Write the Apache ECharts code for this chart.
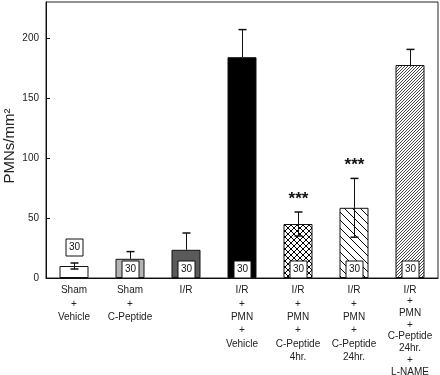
<!DOCTYPE html>
<html>
<head>
<meta charset="utf-8">
<script src="https://cdn.jsdelivr.net/npm/echarts@6/dist/echarts.min.js"></script>
<style>
html,body{margin:0;padding:0;background:#fff;}
#chart{width:440px;height:375px;}
</style>
</head>
<body>
<div id="chart"></div>
<script>
// ---- data ----
const categories = [
  ['Sham', '+', 'Vehicle'],
  ['Sham', '+', 'C-Peptide'],
  ['I/R'],
  ['I/R', '+', 'PMN', '+', 'Vehicle'],
  ['I/R', '+', 'PMN', '+', 'C-Peptide', '4hr.'],
  ['I/R', '+', 'PMN', '+', 'C-Peptide', '24hr.'],
  ['I/R', '+', 'PMN', '+', 'C-Peptide', '24hr.', '+', 'L-NAME']
];
const means = [10, 16, 23.5, 184, 45, 58.5, 177.5];
const errors = [2.5, 6, 14, 23, 10, 24.5, 13];
const nLabels = ['30', '30', '30', '30', '30', '30', '30'];
const significance = ['', '', '', '', '***', '***', ''];
const yTicks = [0, 50, 100, 150, 200];
const yMax = 230;
const yTitle = 'PMNs/mm²';

// ---- styles ----
const FONT = 'Liberation Sans, Arial, Helvetica, sans-serif';
function hatch(size, dirs, color, lw) {
  const c = document.createElement('canvas');
  c.width = size; c.height = size;
  const g = c.getContext('2d');
  g.fillStyle = '#fff';
  g.fillRect(0, 0, size, size);
  g.strokeStyle = color;
  g.lineWidth = lw;
  g.beginPath();
  for (const d of dirs) {
    for (const k of [-size, 0, size]) {
      if (d === 'back') { g.moveTo(k, 0); g.lineTo(k + size, size); }
      else { g.moveTo(k + size, 0); g.lineTo(k, size); }
    }
  }
  g.stroke();
  return { image: c, repeat: 'repeat' };
}
const fills = [
  '#ffffff',
  '#b4b4b4',
  '#5a5a5a',
  '#000000',
  hatch(6, ['back', 'fwd'], '#000', 1),
  hatch(8, ['back'], '#000', 1),
  hatch(3, ['fwd'], '#333', 0.9)
];
const lowerErrShown = [true, false, false, false, true, true, false];

const chart = echarts.init(document.getElementById('chart'));
const catNames = categories.map(c => c.join('\n'));

chart.setOption({
  animation: false,
  backgroundColor: '#fff',
  grid: { left: 46, right: 2, top: 2, bottom: 97, containLabel: false, outerBoundsMode: 'none',
    show: true, borderColor: '#222', borderWidth: 1 },
  graphic: [{
    type: 'text',
    x: 10, y: 146,
    rotation: Math.PI / 2,
    style: { text: yTitle, align: 'center', verticalAlign: 'middle', fontFamily: FONT, fontSize: 15, fill: '#222' }
  }],
  xAxis: {
    type: 'category',
    data: catNames,
    axisLine: { lineStyle: { color: '#111', width: 1 } },
    axisTick: { show: false },
    axisLabel: {
      interval: 0,
      margin: 6,
      color: '#222',
      fontFamily: FONT,
      fontSize: 10,
      hideOverlap: false,
      formatter: function (v, idx) {
        const lines = categories[idx];
        const st = lines.length > 6 ? 'b' : 'a';
        return lines.map(l => '{' + st + '|' + l + '}').join('\n');
      },
      rich: {
        a: { fontFamily: FONT, fontSize: 10, color: '#222', lineHeight: 13.3 },
        b: { fontFamily: FONT, fontSize: 10, color: '#222', lineHeight: 11.7 }
      }
    }
  },
  yAxis: {
    type: 'value',
    min: 0, max: yMax, interval: 50,
    axisLine: { show: true, lineStyle: { color: '#111', width: 1 } },
    axisTick: { show: true, inside: true, length: 4, customValues: yTicks, lineStyle: { color: '#111' } },
    axisLabel: { customValues: yTicks, margin: 7, color: '#222', fontFamily: FONT, fontSize: 10 },
    splitLine: { show: false }
  },
  series: [
    {
      type: 'bar',
      barWidth: 29,
      data: means.map((v, i) => ({ value: v, itemStyle: { color: fills[i], borderColor: '#111', borderWidth: 1 } })),
      z: 2
    },
    {
      type: 'custom',
      z: 3,
      data: means.map((v, i) => [i, v, errors[i]]),
      renderItem: function (params, api) {
        const i = api.value(0), m = api.value(1), e = api.value(2);
        const pm = api.coord([i, m]);
        const pt = api.coord([i, m + e]);
        const pb = api.coord([i, m - e]);
        const x = Math.round(pm[0]) + 0.5;
        const cap = 4;
        const ch = [
          { type: 'line', shape: { x1: x, y1: pm[1], x2: x, y2: pt[1] }, style: { stroke: '#111', lineWidth: 1 } },
          { type: 'line', shape: { x1: x - cap, y1: pt[1], x2: x + cap, y2: pt[1] }, style: { stroke: '#111', lineWidth: 1.5 } }
        ];
        if (lowerErrShown[i]) {
          ch.push({ type: 'line', shape: { x1: x, y1: pm[1], x2: x, y2: pb[1] }, style: { stroke: '#111', lineWidth: 1 } });
          ch.push({ type: 'line', shape: { x1: x - cap, y1: pb[1], x2: x + cap, y2: pb[1] }, style: { stroke: '#111', lineWidth: 1.5 } });
        }
        // n box
        const zero = api.coord([i, 0]);
        const bw = 17, bh = 17;
        let boxBottom = zero[1];
        if (zero[1] - pm[1] < 15) boxBottom = pt[1] - 7;
        ch.push({ type: 'rect', shape: { x: x - bw / 2, y: boxBottom - bh, width: bw, height: bh },
          style: { fill: '#fff', stroke: '#111', lineWidth: 1 } });
        ch.push({ type: 'text', style: { x: x, y: boxBottom - bh / 2, text: nLabels[i], align: 'center', verticalAlign: 'middle',
          fontFamily: FONT, fontSize: 10, fill: '#111' } });
        const sig = significance[i];
        if (sig) {
          ch.push({ type: 'text', style: { x: x, y: pt[1] - 13, text: sig, align: 'center', verticalAlign: 'middle',
            fontFamily: FONT, fontSize: 17, fontWeight: 'bold', fill: '#111' } });
        }
        return { type: 'group', children: ch };
      }
    }
  ]
});
</script>
</body>
</html>
